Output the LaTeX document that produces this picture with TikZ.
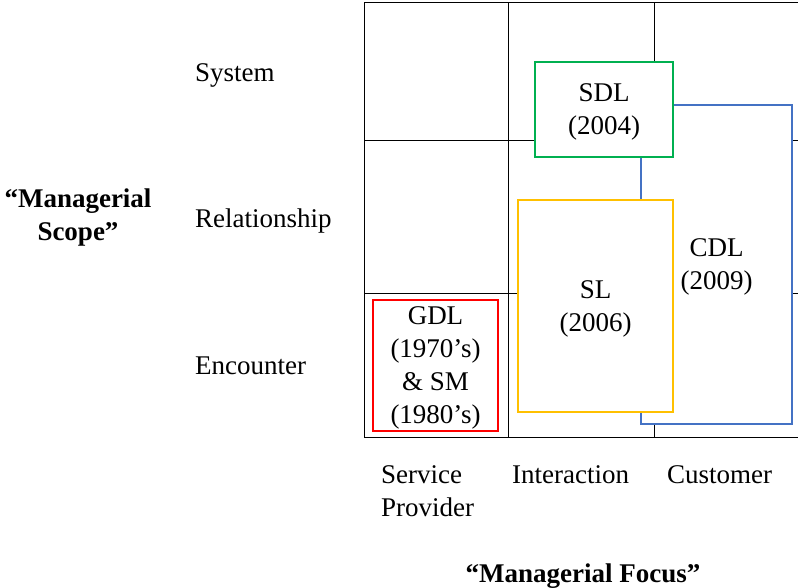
\documentclass[tikz,border=0pt]{standalone}
\usepackage{fontspec}
\setmainfont{Liberation Serif}
\definecolor{cdlblue}{HTML}{4472C4}
\definecolor{sdlgreen}{HTML}{00B050}
\definecolor{slyellow}{HTML}{FFC000}
\definecolor{gdlred}{HTML}{FF0000}
\begin{document}
\begin{tikzpicture}[x=1pt,y=-1pt]

      \tikzset{txt/.style={font=\fontsize{27}{33}\selectfont, inner sep=0pt},
               era/.style={txt, draw, line width=1.7pt, fill=white, align=center, text depth=-7pt}}
      \useasboundingbox (0,0) rectangle (798,587);
%% Grid
      \foreach \y in {2,140,293,437} \draw[line width=1pt] (364,\y) -- (798,\y);
      \foreach \x in {364,508,654} \draw[line width=1pt] (\x,2) -- (\x,437);
%% Boxes
      \node[era, draw=cdlblue, minimum width=151pt, minimum height=319pt] (cdl) at (716.5,264.5) {CDL\\(2009)};
      \node[era, draw=sdlgreen, minimum width=138pt, minimum height=95pt] (sdl) at (604,109.5) {SDL\\(2004)};
      \node[era, draw=slyellow, minimum width=155pt, minimum height=212pt] (sl) at (595.5,306) {SL\\(2006)};
      \node[era, draw=gdlred, minimum width=125pt, minimum height=131pt] (gdl) at (435.5,365.5) {GDL\\(1970’s)\\\& SM\\(1980’s)};
%% Scope labels
      \node[txt, anchor=base west] (system) at (195,81) {System};
      \node[txt, anchor=base west] (relation) at (195,227) {Relationship};
      \node[txt, anchor=base west] (encounter) at (195,374) {Encounter};
      \node[txt, font=\fontsize{27}{33}\selectfont\bfseries, align=center] (scope) at (78,218) {“Managerial\\Scope”};
%% Focus labels
      \node[txt, anchor=north west, align=left] (provider) at (381,465) {Service\\Provider};
      \node[txt, anchor=north west] (interaction) at (512,465) {Interaction};
      \node[txt, anchor=north west] (customer) at (667,465) {Customer};
      \node[txt, font=\fontsize{27}{33}\selectfont\bfseries, anchor=base] (focus) at (583,582) {“Managerial Focus”};

	\end{tikzpicture}
\end{document}
